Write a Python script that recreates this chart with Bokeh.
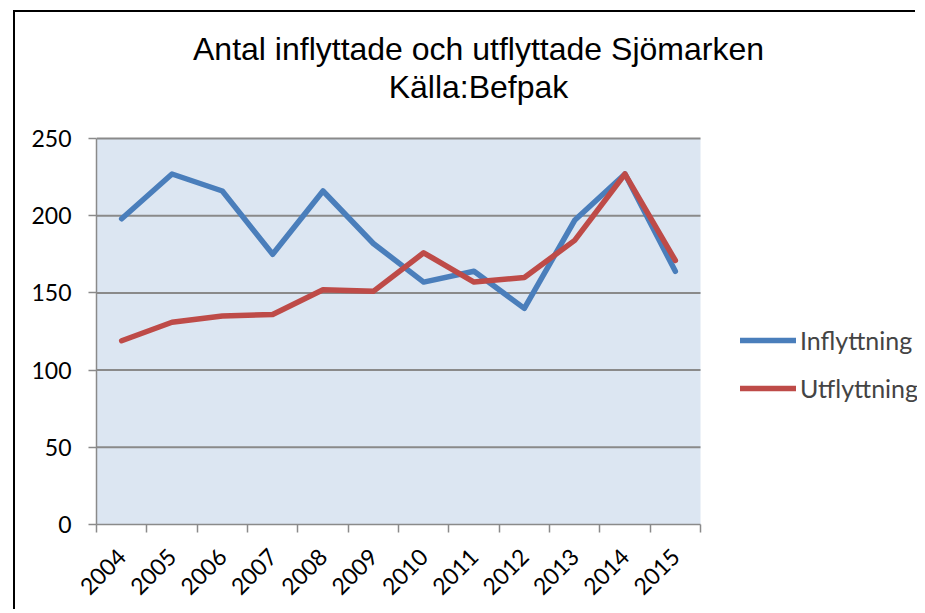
import math
from bokeh.plotting import figure
from bokeh.models import (Range1d, FixedTicker, Legend, LegendItem, Label, BoxAnnotation)
from bokeh.embed import file_html
from bokeh.resources import INLINE

years = ["2004", "2005", "2006", "2007", "2008", "2009", "2010", "2011", "2012", "2013", "2014", "2015"]
inflyttning = [198, 227, 216, 175, 216, 182, 157, 164, 140, 197, 227, 164]
utflyttning = [119, 131, 135, 136, 152, 151, 176, 157, 160, 184, 227, 171]
y_ticks = [0, 50, 100, 150, 200, 250]
title_lines = ["Antal inflyttade och utflyttade Sjömarken", "Källa:Befpak"]
series_names = ["Inflyttning", "Utflyttning"]

BLUE = "#4a7ebb"
RED = "#be4b48"
GRID = "#8a8a8a"
TICKFONT = "Lato"

n = len(years)
xs = [i + 0.5 for i in range(n)]
y_max = y_ticks[-1]

# screen layout (page pixels; the page body has no margin)
CANVAS_L, CANVAS_T = 15, 12
W, H = 902, 599
PA_L, PA_R, PA_T, PA_B = 96, 700, 138, 524   # plot-area box
FR_R = CANVAS_L + W                            # frame extends to canvas right / top
x_end = n * (FR_R - PA_L) / (PA_R - PA_L)
y_end = y_max * (PA_B - CANVAS_T) / (PA_B - PA_T)

p = figure(width=W, height=H, output_backend="svg", toolbar_location=None,
           x_range=Range1d(0, x_end), y_range=Range1d(0, y_end),
           min_border_left=PA_L - CANVAS_L, min_border_top=0, min_border_right=0,
           min_border_bottom=CANVAS_T + H - PA_B)
p.styles = {"border-left": "2px solid black", "border-top": "2px solid black",
            "margin-left": "13px", "margin-top": "10px"}
p.background_fill_color = "white"
p.border_fill_color = "white"
p.outline_line_color = None

# plot-area background
p.add_layout(BoxAnnotation(left=0, right=n, bottom=0, top=y_max,
                           fill_color="#dce6f2", fill_alpha=1, line_color=None,
                           level="underlay"))

# x axis
p.xaxis.bounds = (0, n)
p.xaxis.ticker = FixedTicker(ticks=xs, minor_ticks=list(range(n + 1)))
p.xaxis.major_label_overrides = {x: y for x, y in zip(xs, years)}
p.xaxis.major_tick_out = 0
p.xaxis.major_tick_in = 0
p.xaxis.minor_tick_out = 8
p.xaxis.minor_tick_in = 0
p.xaxis.minor_tick_line_color = GRID
p.xaxis.minor_tick_line_width = 1.5
p.xaxis.axis_line_color = GRID
p.xaxis.axis_line_width = 1.5
p.xaxis.major_label_orientation = math.pi / 4
p.xaxis.major_label_text_font = TICKFONT
p.xaxis.major_label_text_font_size = "23px"
p.xaxis.major_label_text_color = "black"
p.xaxis.major_label_standoff = 20

# y axis
p.yaxis.bounds = (0, y_max)
p.yaxis.ticker = FixedTicker(ticks=y_ticks)
p.yaxis.major_tick_out = 8
p.yaxis.major_tick_in = 0
p.yaxis.minor_tick_line_color = None
p.yaxis.major_tick_line_color = GRID
p.yaxis.major_tick_line_width = 1.5
p.yaxis.axis_line_color = GRID
p.yaxis.axis_line_width = 1.5
p.yaxis.major_label_text_font = TICKFONT
p.yaxis.major_label_text_font_size = "23px"
p.yaxis.major_label_text_color = "black"
p.yaxis.major_label_standoff = 17

p.xgrid.grid_line_color = None
p.ygrid.grid_line_color = None

# horizontal gridlines across the plot area only
grid_y = y_ticks[1:]
p.segment(x0=[0] * len(grid_y), x1=[n] * len(grid_y), y0=grid_y, y1=grid_y,
          line_color=GRID, line_width=2)

r1 = p.line(xs, inflyttning, line_color=BLUE, line_width=5.5, line_cap="round", line_join="round")
r2 = p.line(xs, utflyttning, line_color=RED, line_width=5.5, line_cap="round", line_join="round")

legend = Legend(items=[LegendItem(label=series_names[0], renderers=[r1]),
                       LegendItem(label=series_names[1], renderers=[r2])],
                location=(740 - PA_L, PA_B - 403), background_fill_alpha=0,
                border_line_color=None,
                label_text_font=TICKFONT, label_text_font_size="25px",
                glyph_width=56, glyph_height=24, label_standoff=4, spacing=18,
                padding=0, margin=0)
p.add_layout(legend, "center")

for txt, base in zip(title_lines, [48, 86]):
    p.add_layout(Label(x=478 - PA_L, y=PA_B - base, x_units="screen", y_units="screen",
                       text=txt, text_align="center", text_baseline="alphabetic",
                       text_font="Liberation Sans", text_font_size="32px",
                       text_color="black"))

open("out.html", "w").write(file_html(p, INLINE))
